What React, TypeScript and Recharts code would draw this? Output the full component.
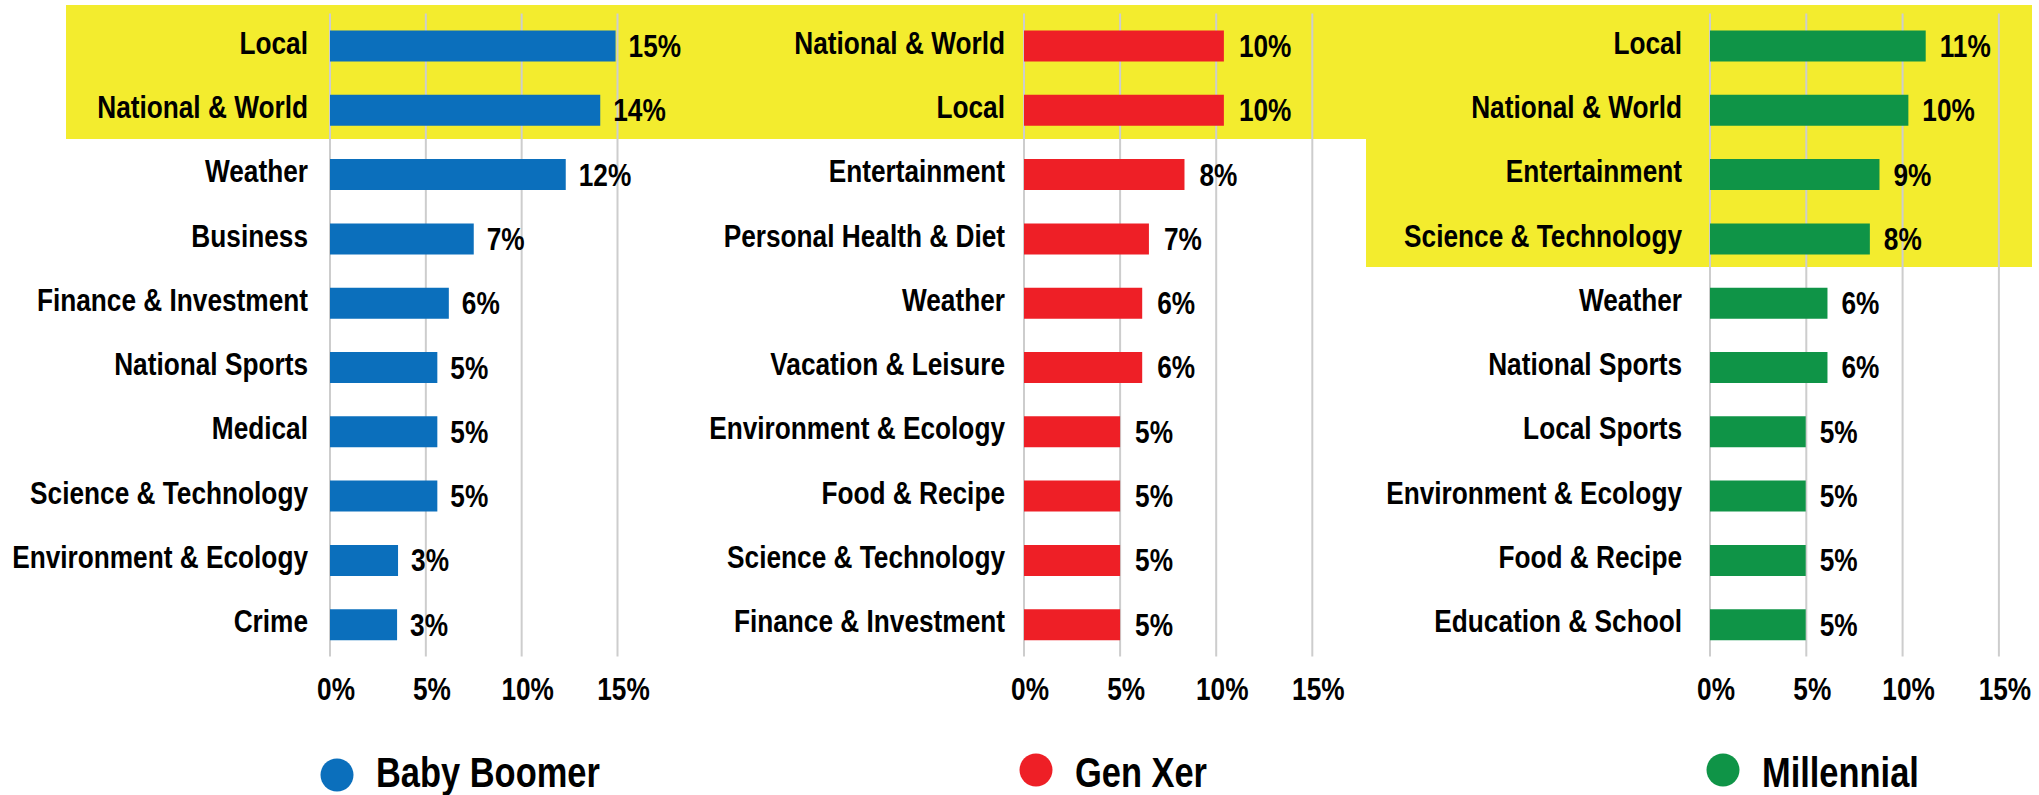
import React from 'react';
import { BarChart, Bar, XAxis, YAxis, CartesianGrid, LabelList } from 'recharts';

// Topics per generation (top to bottom)
const boomerTopics = ['Local', 'National & World', 'Weather', 'Business', 'Finance & Investment', 'National Sports', 'Medical', 'Science & Technology', 'Environment & Ecology', 'Crime'];
const boomerValues = [14.9, 14.1, 12.3, 7.5, 6.2, 5.6, 5.6, 5.6, 3.55, 3.5];
const boomerLabels = ['15%', '14%', '12%', '7%', '6%', '5%', '5%', '5%', '3%', '3%'];

const genXTopics = ['National & World', 'Local', 'Entertainment', 'Personal Health & Diet', 'Weather', 'Vacation & Leisure', 'Environment & Ecology', 'Food & Recipe', 'Science & Technology', 'Finance & Investment'];
const genXValues = [10.4, 10.4, 8.35, 6.5, 6.15, 6.15, 5.0, 5.0, 5.0, 5.0];
const genXLabels = ['10%', '10%', '8%', '7%', '6%', '6%', '5%', '5%', '5%', '5%'];

const millennialTopics = ['Local', 'National & World', 'Entertainment', 'Science & Technology', 'Weather', 'National Sports', 'Local Sports', 'Environment & Ecology', 'Food & Recipe', 'Education & School'];
const millennialValues = [11.2, 10.3, 8.8, 8.3, 6.1, 6.1, 4.97, 4.97, 4.97, 4.97];
const millennialLabels = ['11%', '10%', '9%', '8%', '6%', '6%', '5%', '5%', '5%', '5%'];

const xTicks = [0, 5, 10, 15];

const FONT = 'Liberation Sans, Arial, Helvetica, sans-serif';
const YELLOW = '#F3EC2E';

// condensed bold text (Arial Narrow look)
function Narrow({ x, y, anchor = 'start', size = 32, children }: any) {
  return (
    <text
      transform={`translate(${x},${y}) scale(0.82,1)`}
      textAnchor={anchor}
      fontSize={size}
      fontWeight="bold"
      fontFamily={FONT}
      fill="#000"
    >
      {children}
    </text>
  );
}

const YAXIS_W = 340;
const TOP = 13.5;
const PLOT_H = 643;
const XAXIS_H = 60;

function Panel({ topics, values, labels, color, axisX, plotW, labelGap, valueGap }: any) {
  const data = topics.map((t: string, i: number) => ({ topic: t, value: values[i], label: labels[i] }));
  const right = 66;
  return (
    <div style={{ position: 'absolute', left: axisX - YAXIS_W, top: 0 }}>
      <BarChart
        width={YAXIS_W + plotW + right}
        height={TOP + PLOT_H + XAXIS_H}
        data={data}
        layout="vertical"
        margin={{ top: TOP, right, bottom: 0, left: 0 }}
        barSize={31}
      >
        <CartesianGrid horizontal={false} stroke="#cdcdcd" strokeWidth={2} />
        <XAxis
          type="number"
          domain={[0, 15]}
          ticks={xTicks}
          axisLine={false}
          tickLine={false}
          tickSize={0}
          tickMargin={0}
          height={XAXIS_H}
          interval={0}
          tick={(p: any) => (
            <Narrow x={p.x + 6} y={p.y + 43.5} anchor="middle">{`${p.payload.value}%`}</Narrow>
          )}
        />
        <YAxis
          type="category"
          dataKey="topic"
          width={YAXIS_W}
          axisLine={false}
          tickLine={false}
          tickSize={0}
          tickMargin={0}
          interval={0}
          tick={(p: any) => (
            <Narrow x={p.x - labelGap} y={p.y + 8} anchor="end">{p.payload.value}</Narrow>
          )}
        />
        <Bar dataKey="value" fill={color} isAnimationActive={false}>
          <LabelList
            dataKey="label"
            content={(p: any) => (
              <Narrow x={p.x + p.width + valueGap} y={p.y + p.height / 2 + 11}>{p.value}</Narrow>
            )}
          />
        </Bar>
      </BarChart>
    </div>
  );
}

const legendItems = [
  { name: 'Baby Boomer', color: '#0B6FBC', cx: 337, cy: 775 },
  { name: 'Gen Xer', color: '#EE1F26', cx: 1036, cy: 770 },
  { name: 'Millennial', color: '#0F9447', cx: 1723, cy: 770 },
];

export default function App() {
  return (
    <div style={{ position: 'absolute', left: 0, top: 0, width: 2039, height: 795, background: '#fff', overflow: 'hidden' }}>
      {/* highlight boxes */}
      <div style={{ position: 'absolute', left: 66, top: 5, width: 1966, height: 134, background: YELLOW }} />
      <div style={{ position: 'absolute', left: 1366, top: 133, width: 666, height: 134, background: YELLOW }} />

      <Panel topics={boomerTopics} values={boomerValues} labels={boomerLabels} color="#0B6FBC" axisX={330.4} plotW={287.5} labelGap={22} valueGap={13} />
      <Panel topics={genXTopics} values={genXValues} labels={genXLabels} color="#EE1F26" axisX={1023.7} plotW={288.3} labelGap={19} valueGap={15} />
      <Panel topics={millennialTopics} values={millennialValues} labels={millennialLabels} color="#0F9447" axisX={1709.6} plotW={288.9} labelGap={28} valueGap={14} />

      <svg width={2039} height={795} style={{ position: 'absolute', left: 0, top: 0, pointerEvents: 'none' }}>
        {legendItems.map((l) => (
          <g key={l.name}>
            <circle cx={l.cx} cy={l.cy} r={16.5} fill={l.color} />
            <Narrow x={l.cx + 39} y={786.7} size={42}>{l.name}</Narrow>
          </g>
        ))}
      </svg>
    </div>
  );
}
